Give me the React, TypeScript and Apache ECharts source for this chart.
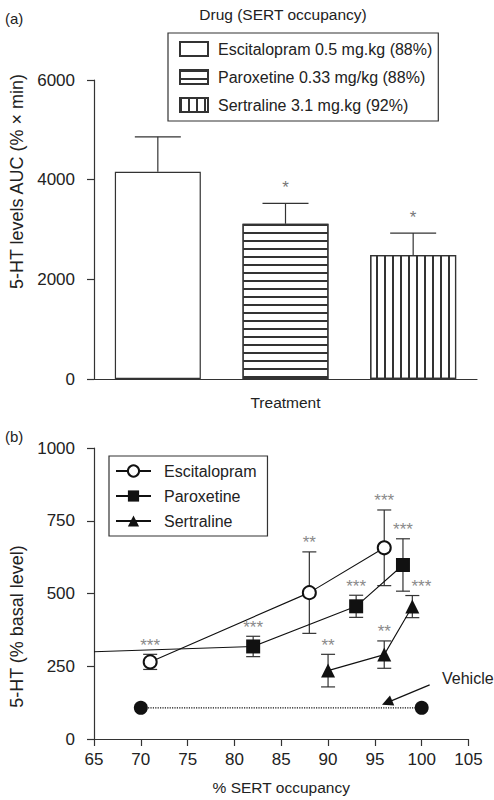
import React, { useEffect, useRef } from "react";
import * as echarts from "echarts";

// ---- Panel (a) data ----
const treatments = ["Escitalopram", "Paroxetine", "Sertraline"];
const barNames = [
  "Escitalopram 0.5 mg.kg (88%)",
  "Paroxetine 0.33 mg/kg (88%)",
  "Sertraline 3.1 mg.kg (92%)",
];
const aucMean = [4160, 3115, 2487];
const aucSem = [700, 410, 442];
const aucSig = ["", "*", "*"];

// ---- Panel (b) data ----
const escX = [71, 88, 96];
const escY = [265, 503, 657];
const escSem = [26, 140, 130];
const escSig = ["***", "**", "***"];

const parLeadIn = [65, 300];
const parX = [82, 93, 98];
const parY = [318, 456, 598];
const parSem = [35, 38, 90];
const parSig = ["***", "***", "***"];

const serX = [90, 96, 99];
const serY = [235, 290, 455];
const serSem = [56, 47, 38];
const serSig = ["**", "**", "***"];

const vehX = [70, 100];
const vehY = [107, 107];
const vehArrow = [
  [100.85, 186],
  [96.3, 125],
];

const xTicks = { min: 65, max: 105, interval: 5 };
const yTicksA = { min: 0, max: 6000, interval: 2000 };
const yTicksB = { min: 0, max: 1000, interval: 250 };

const FONT = "Liberation Sans, Arial, Helvetica, sans-serif";
const INK = "#222";
const LINE = "#333";

function errorSeriesB(name: string, xs: number[], ys: number[], sems: number[], sigs: string[], nudge: number[]) {
  return {
    type: "custom",
    name,
    xAxisIndex: 1,
    yAxisIndex: 1,
    z: 1,
    silent: true,
    data: xs.map((x, i) => [x, ys[i], sems[i], i]),
    renderItem: (params: any, api: any) => {
      const x = api.value(0);
      const y = api.value(1);
      const s = api.value(2);
      const i = api.value(3);
      const hi = api.coord([x, y + s]);
      const lo = api.coord([x, y - s]);
      const cap = 7;
      const st = { stroke: LINE, lineWidth: 1.2 };
      return {
        type: "group",
        children: [
          { type: "line", shape: { x1: hi[0], y1: hi[1], x2: lo[0], y2: lo[1] }, style: st },
          { type: "line", shape: { x1: hi[0] - cap, y1: hi[1], x2: hi[0] + cap, y2: hi[1] }, style: st },
          { type: "line", shape: { x1: lo[0] - cap, y1: lo[1], x2: lo[0] + cap, y2: lo[1] }, style: st },
          {
            type: "text",
            x: hi[0] + (nudge[i] || 0),
            y: hi[1] - 9,
            style: {
              text: sigs[i],
              fill: "#8a8a8a",
              font: `17px ${FONT}`,
              align: "center",
              verticalAlign: "middle",
            },
          },
        ],
      };
    },
  };
}

export default function App() {
  const ref = useRef<HTMLDivElement>(null);
  useEffect(() => {
    document.body.style.margin = "0";
    const chart = echarts.init(ref.current!, undefined, { renderer: "svg" });

    const decals: any[] = [
      undefined,
      { symbol: "rect", symbolSize: 1, dashArrayX: [1, 0], dashArrayY: [1.2, 6], color: LINE },
      { symbol: "rect", symbolSize: 1, dashArrayX: [1.2, 6], dashArrayY: [1, 0], color: LINE },
    ];

    const axisLine = { lineStyle: { color: LINE, width: 1.2 } };
    const axisTick = { length: 7, lineStyle: { color: LINE, width: 1.2 } };
    const tickLabel = { color: INK, fontSize: 17, fontFamily: FONT, formatter: (v: number) => String(v) };

    const option: any = {
      animation: false,
      backgroundColor: "#fff",
      textStyle: { fontFamily: FONT },
      title: [
        { text: "Drug (SERT occupancy)", left: 278, top: 1, textAlign: "center", textStyle: { fontSize: 15.5, fontWeight: "normal", color: INK, fontFamily: FONT } },
        { text: "(a)", left: 0, top: 6, textStyle: { fontSize: 15, fontWeight: "normal", color: INK, fontFamily: FONT } },
        { text: "(b)", left: 0, top: 424, textStyle: { fontSize: 15, fontWeight: "normal", color: INK, fontFamily: FONT } },
      ],
      legend: [
        {
          data: barNames,
          orient: "vertical",
          left: 168,
          top: 33,
          padding: [8, 6, 8, 11],
          itemGap: 12,
          itemWidth: 28,
          itemHeight: 14,
          icon: "rect",
          borderColor: LINE,
          borderWidth: 1.2,
          selectedMode: false,
          textStyle: { fontSize: 16, color: INK, fontFamily: FONT, padding: [0, 0, 0, 5] },
        },
        {
          data: ["Escitalopram", "Paroxetine", "Sertraline"],
          orient: "vertical",
          left: 109,
          top: 456,
          padding: [7, 11, 7, 6],
          itemGap: 9,
          itemWidth: 35,
          itemHeight: 14,
          borderColor: LINE,
          borderWidth: 1.2,
          selectedMode: false,
          textStyle: { fontSize: 16, color: INK, fontFamily: FONT, padding: [0, 0, 0, 8] },
        },
      ],
      grid: [
        { left: 90, top: 80, width: 387, height: 299 },
        { left: 91, top: 448, width: 377.5, height: 291 },
      ],
      xAxis: [
        {
          type: "category",
          gridIndex: 0,
          data: treatments,
          axisLine,
          axisTick: { ...axisTick, alignWithLabel: true },
          axisLabel: { show: false },
          name: "Treatment",
          nameLocation: "middle",
          nameGap: 15,
          nameTextStyle: { fontSize: 15.5, color: INK, fontFamily: FONT },
        },
        {
          type: "value",
          gridIndex: 1,
          ...xTicks,
          axisLine,
          axisTick,
          splitLine: { show: false },
          axisLabel: { ...tickLabel, margin: 12 },
          name: "% SERT occupancy",
          nameLocation: "middle",
          nameGap: 40,
          nameTextStyle: { fontSize: 15.5, color: INK, fontFamily: FONT },
        },
      ],
      yAxis: [
        {
          type: "value",
          gridIndex: 0,
          ...yTicksA,
          axisLine: { show: true, ...axisLine },
          axisTick: { show: true, ...axisTick },
          splitLine: { show: false },
          axisLabel: { ...tickLabel, margin: 19 },
          name: "5-HT levels AUC (% × min)",
          nameLocation: "middle",
          nameGap: 68,
          nameTextStyle: { fontSize: 18, color: INK, fontFamily: FONT, padding: [0, 0, 0, 96] },
        },
        {
          type: "value",
          gridIndex: 1,
          ...yTicksB,
          axisLine: { show: true, ...axisLine },
          axisTick: { show: true, ...axisTick },
          splitLine: { show: false },
          axisLabel: { ...tickLabel, margin: 19 },
          name: "5-HT (% basal level)",
          nameLocation: "middle",
          nameGap: 68,
          nameTextStyle: { fontSize: 18, color: INK, fontFamily: FONT, padding: [0, 66, 0, 0] },
        },
      ],
      series: [
        ...barNames.map((name, i) => ({
          type: "bar",
          name,
          xAxisIndex: 0,
          yAxisIndex: 0,
          barWidth: 86,
          barGap: "-100%",
          data: aucMean.map((v, j) => (j === i ? v : "-")),
          itemStyle: { color: "#fff", borderColor: LINE, borderWidth: 1.2, decal: decals[i] },
        })),
        {
          type: "custom",
          name: "AUC SEM",
          xAxisIndex: 0,
          yAxisIndex: 0,
          silent: true,
          data: aucMean.map((m, i) => [i, m, m + aucSem[i], i]),
          renderItem: (params: any, api: any) => {
            const i = api.value(0);
            const top = api.coord([i, api.value(1)]);
            const err = api.coord([i, api.value(2)]);
            const st = { stroke: LINE, lineWidth: 1.2 };
            const children: any[] = [
              { type: "line", shape: { x1: top[0], y1: top[1], x2: err[0], y2: err[1] }, style: st },
              { type: "line", shape: { x1: err[0] - 23, y1: err[1], x2: err[0] + 23, y2: err[1] }, style: st },
            ];
            const sig = aucSig[api.value(3)];
            if (sig) {
              children.push({
                type: "text",
                x: err[0],
                y: err[1] - 16,
                style: { text: sig, fill: "#777", font: `17px ${FONT}`, align: "center", verticalAlign: "middle" },
              });
            }
            return { type: "group", children };
          },
        },
        errorSeriesB("Escitalopram SEM", escX, escY, escSem, escSig, [0, 0, 0]),
        errorSeriesB("Paroxetine SEM", parX, parY, parSem, parSig, [0, 0, 0]),
        errorSeriesB("Sertraline SEM", serX, serY, serSem, serSig, [0, 0, 9]),
        {
          type: "line",
          name: "Escitalopram",
          xAxisIndex: 1,
          yAxisIndex: 1,
          z: 3,
          data: escX.map((x, i) => [x, escY[i]]),
          symbol: "emptyCircle",
          symbolSize: 13,
          itemStyle: { color: "#111", borderWidth: 1.3 },
          lineStyle: { color: "#111", width: 1.1 },
        },
        {
          type: "line",
          name: "Paroxetine",
          xAxisIndex: 1,
          yAxisIndex: 1,
          z: 3,
          data: [{ value: parLeadIn, symbol: "none" }, ...parX.map((x, i) => [x, parY[i]])],
          symbol: "rect",
          symbolSize: 14,
          itemStyle: { color: "#111" },
          lineStyle: { color: "#111", width: 1.1 },
        },
        {
          type: "line",
          name: "Sertraline",
          xAxisIndex: 1,
          yAxisIndex: 1,
          z: 3,
          data: serX.map((x, i) => [x, serY[i]]),
          symbol: "triangle",
          symbolSize: 14,
          itemStyle: { color: "#111" },
          lineStyle: { color: "#111", width: 1.1 },
        },
        {
          type: "line",
          name: "Vehicle",
          xAxisIndex: 1,
          yAxisIndex: 1,
          z: 3,
          data: vehX.map((x, i) => [x, vehY[i]]),
          symbol: "circle",
          symbolSize: 14,
          itemStyle: { color: "#111" },
          lineStyle: { color: "#111", width: 1.2, type: "dotted" },
          markLine: {
            silent: true,
            symbol: ["none", "triangle"],
            symbolSize: 11,
            lineStyle: { color: "#111", width: 1.2, type: "solid" },
            label: { show: false },
            data: [[{ coord: vehArrow[0] }, { coord: vehArrow[1] }]],
          },
        },
      ],
      graphic: [
        {
          type: "text",
          left: 442,
          top: 670,
          style: { text: "Vehicle", fill: INK, font: `16px ${FONT}` },
        },
      ],
    };

    chart.setOption(option);
    return () => chart.dispose();
  }, []);

  return <div ref={ref} style={{ width: 494, height: 800 }} />;
}
